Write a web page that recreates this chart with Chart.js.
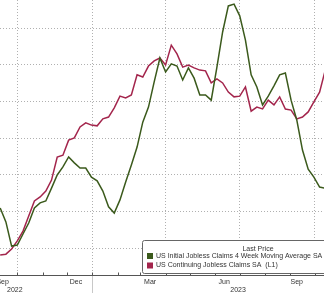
<!DOCTYPE html>
<html><head><meta charset="utf-8">
<script src="https://cdn.jsdelivr.net/npm/chart.js@4.4.1/dist/chart.umd.min.js"></script>
<style>html,body{margin:0;padding:0;background:#fff;overflow:hidden}canvas{display:block}</style>
</head><body>
<canvas id="c" width="324" height="293"></canvas>
<script>
const weekDates = [
 '2022-09-10','2022-09-17','2022-09-24','2022-10-01','2022-10-08','2022-10-15','2022-10-22','2022-10-29',
 '2022-11-05','2022-11-12','2022-11-19','2022-11-26','2022-12-03','2022-12-10','2022-12-17','2022-12-24','2022-12-31',
 '2023-01-07','2023-01-14','2023-01-21','2023-01-28','2023-02-04','2023-02-11','2023-02-18','2023-02-25',
 '2023-03-04','2023-03-11','2023-03-18','2023-03-25','2023-04-01','2023-04-08','2023-04-15','2023-04-22','2023-04-29',
 '2023-05-06','2023-05-13','2023-05-20','2023-05-27','2023-06-03','2023-06-10','2023-06-17','2023-06-24',
 '2023-07-01','2023-07-08','2023-07-15','2023-07-22','2023-07-29','2023-08-05','2023-08-12','2023-08-19','2023-08-26',
 '2023-09-02','2023-09-09','2023-09-16','2023-09-23','2023-09-30','2023-10-07','2023-10-14'
];
// US Initial Jobless Claims 4 Week Moving Average SA (thousands, right axis)
const initialClaims4wkAvg = [
 201.0,197.2,190.6,190.9,193.9,196.9,201.0,202.4,202.9,206.4,210.0,212.2,214.9,213.3,211.9,211.9,209.4,
 208.4,205.6,201.3,199.6,203.2,208.1,212.7,217.6,224.4,228.5,235.4,241.9,238.1,240.3,239.7,235.9,239.2,
 236.4,231.8,231.8,230.4,239.4,249.0,256.1,256.6,253.4,246.8,237.3,234.0,229.1,231.5,234.3,237.3,237.8,
 230.4,225.0,216.8,211.6,209.4,206.7,206.4
];
// US Continuing Jobless Claims SA (thousands, left axis L1)
const continuingClaims = [
 1382,1384,1398,1420,1447,1488,1529,1540,1556,1586,1649,1654,1695,1701,1731,1742,1736,
 1734,1753,1758,1783,1815,1810,1818,1873,1867,1897,1911,1919,1900,1954,1930,1894,1900,
 1892,1886,1884,1851,1862,1851,1826,1813,1815,1840,1774,1785,1780,1804,1791,1813,1780,
 1777,1753,1758,1772,1799,1826,1886
];
const gridDates = ['2022-10-01','2023-01-01','2023-04-01','2023-07-01','2023-10-01'];
const monthTickDates = ['2022-10-01','2022-11-01','2022-12-01','2023-01-01','2023-02-01','2023-03-01','2023-04-01',
 '2023-05-01','2023-06-01','2023-07-01','2023-08-01','2023-09-01','2023-10-01'];
const monthLabels = ['Sep','Dec','Mar','Jun','Sep'];
const monthLabelDates = ['2022-09-13','2022-12-12','2023-03-13','2023-06-12','2023-09-09'];
const yearLabels = ['2022','2023'];
const yearLabelDates = ['2022-09-28','2023-06-29'];
const yearSeparatorDates = ['2023-01-01'];
const leftGridValues = [1400,1500,1600,1700,1800,1900,2000];
const legendTitle = 'Last Price';
const seriesNames = ['US Initial Jobless Claims 4 Week Moving Average SA','US Continuing Jobless Claims SA  (L1)'];
const seriesColors = ['#3b5a1c','#a3254c'];

function day(s){const p=s.split('-').map(Number);return (Date.UTC(p[0],p[1]-1,p[2])-Date.UTC(2022,9,1))/86400000;}
const pxPerDay = 297.4/365;
const xMin = -17.3/pxPerDay, xMax = xMin + 324/pxPerDay;

const FONT = '"Liberation Sans", Arial, sans-serif';
const decorations = {
  id:'decorations',
  afterDraw(chart){
    const ctx=chart.ctx, xs=chart.scales.x, a=chart.chartArea;
    ctx.save();
    ctx.strokeStyle='#555'; ctx.lineWidth=1;
    monthTickDates.forEach(d=>{const px=Math.round(xs.getPixelForValue(day(d)))+0.5;
      ctx.beginPath();ctx.moveTo(px,a.bottom-2.5);ctx.lineTo(px,a.bottom);ctx.stroke();});
    ctx.strokeStyle='#c8c8c8';
    yearSeparatorDates.forEach(d=>{const px=Math.round(xs.getPixelForValue(day(d)))+0.5;
      ctx.beginPath();ctx.moveTo(px,a.bottom+1);ctx.lineTo(px,chart.height);ctx.stroke();});
    ctx.fillStyle='#333'; ctx.font='7px '+FONT; ctx.textAlign='center'; ctx.textBaseline='middle';
    monthLabels.forEach((t,i)=>ctx.fillText(t,xs.getPixelForValue(day(monthLabelDates[i])),a.bottom+7));
    yearLabels.forEach((t,i)=>ctx.fillText(t,xs.getPixelForValue(day(yearLabelDates[i])),a.bottom+15.5));
    // legend box
    const bx=142.5, by=240.5, bw=200, bh=33, r=2;
    ctx.beginPath();
    ctx.moveTo(bx+r,by);ctx.lineTo(bx+bw,by);ctx.lineTo(bx+bw,by+bh);ctx.lineTo(bx+r,by+bh);
    ctx.arcTo(bx,by+bh,bx,by+bh-r,r);ctx.lineTo(bx,by+r);ctx.arcTo(bx,by,bx+r,by,r);ctx.closePath();
    ctx.fillStyle='#fff';ctx.fill();ctx.strokeStyle='#666';ctx.lineWidth=1;ctx.stroke();
    ctx.fillStyle='#333';ctx.textAlign='center';
    ctx.fillText(legendTitle,258,249.5);
    ctx.textAlign='left';
    seriesNames.forEach((n,i)=>{const cy=256+i*9.5;
      ctx.fillStyle=seriesColors[i];ctx.fillRect(147,cy-3,6,6);
      ctx.fillStyle='#333';ctx.fillText(n,156,cy);});
    ctx.restore();
  }
};

new Chart(document.getElementById('c'),{
  type:'line',
  data:{datasets:[
    {label:seriesNames[0],data:weekDates.map((d,i)=>({x:day(d),y:initialClaims4wkAvg[i]})),yAxisID:'y2',
     borderColor:seriesColors[0],borderWidth:1.5,pointRadius:0,tension:0,fill:false},
    {label:seriesNames[1],data:weekDates.map((d,i)=>({x:day(d),y:continuingClaims[i]})),yAxisID:'y',
     borderColor:seriesColors[1],borderWidth:1.5,pointRadius:0,tension:0,fill:false}
  ]},
  options:{
    responsive:false,animation:false,devicePixelRatio:1,
    layout:{padding:{left:0,right:0,top:0,bottom:18},autoPadding:false},
    plugins:{legend:{display:false},tooltip:{enabled:false}},
    scales:{
      x:{type:'linear',min:xMin,max:xMax,
         afterBuildTicks(s){s.ticks=gridDates.map(d=>({value:day(d)}));},
         ticks:{display:false},grid:{color:'#b0b0b0',lineWidth:1,drawTicks:false},
         border:{display:true,color:'#555',width:1,dash:[1,2]}},
      y:{type:'linear',position:'left',min:1400-26.7*100/36.667,max:1400+248.3*100/36.667,
         afterBuildTicks(s){s.ticks=leftGridValues.map(v=>({value:v}));},
         ticks:{display:false},grid:{color:'#b0b0b0',lineWidth:1,drawTicks:false},
         border:{display:false,dash:[1,2]}},
      y2:{type:'linear',position:'right',display:false,min:190-26.7*10/36.667,max:190+248.3*10/36.667}
    }
  },
  plugins:[decorations]
});
</script>
</body></html>
